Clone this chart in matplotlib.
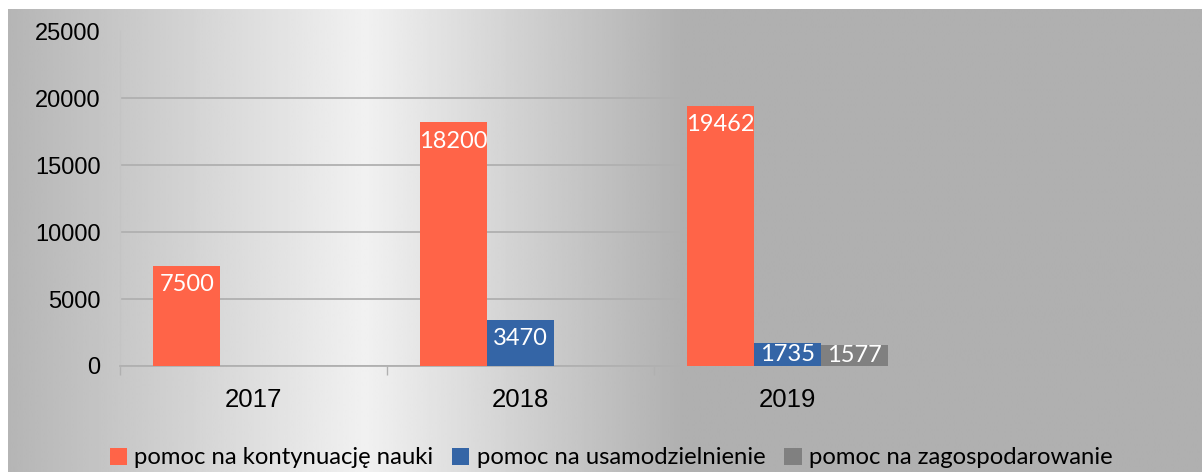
import numpy as np
import matplotlib
matplotlib.use("Agg")
import matplotlib.pyplot as plt
from matplotlib.patches import Patch

# ---- data ----
categories = ["2017", "2018", "2019"]
series_names = ["pomoc na kontynuację nauki", "pomoc na usamodzielnienie", "pomoc na zagospodarowanie"]
kontynuacja = [7500, 18200, 19462]
usamodzielnienie = [0, 3470, 1735]
zagospodarowanie = [0, 0, 1577]
yticks = [0, 5000, 10000, 15000, 20000, 25000]

colors = ["#FF6448", "#3465A6", "#808080"]
W, H = 1202, 472
fig = plt.figure(figsize=(W / 100, H / 100), dpi=100)
fig.patch.set_facecolor("white")

# ---- background gradient ----
bg = fig.add_axes([8 / W, 0, (W - 8) / W, (H - 9) / H], zorder=-10)
xs = np.linspace(8, W, 600)
vals = np.interp(xs, [8, 365, 682, W], [0.71, 0.945, 0.69, 0.69])
bg.imshow(vals[None, :], aspect="auto", cmap="gray", vmin=0, vmax=1,
          extent=[0, 1, 0, 1], interpolation="bilinear")
bg.set_axis_off()

# ---- main axes ----
x0, x1 = 120, 1188
y0, y1 = 366, 31.5
ax = fig.add_axes([x0 / W, 1 - y0 / H, (x1 - x0) / W, (y0 - y1) / H])
ax.set_facecolor("none")
ax.set_xlim(-0.5, 3.5)
ax.set_ylim(0, 25000)

grid_c = "#b0b0b0"
for s in ["top", "right"]:
    ax.spines[s].set_visible(False)
ax.spines["left"].set_color("#c4c4c4")
ax.spines["left"].set_linewidth(1.0)
ax.spines["bottom"].set_color(grid_c)
ax.spines["bottom"].set_linewidth(1.3)
ax.set_yticks(yticks)
ax.set_yticklabels([str(v) for v in yticks], fontfamily="Liberation Sans", fontsize=17)
ax.tick_params(axis="y", length=0, pad=14)
ax.yaxis.grid(True, color=grid_c, linewidth=1.3)
ax.set_axisbelow(True)

ax.set_xticks(range(len(categories)))
ax.set_xticklabels(categories, fontfamily="Liberation Sans", fontsize=18.5)
ax.tick_params(axis="x", which="major", length=0, pad=16)
ax.set_xticks([-0.5, 0.5, 1.5, 2.5, 3.5], minor=True)
ax.tick_params(axis="x", which="minor", length=6.5, color=grid_c, width=1.0)

bw = 0.25
series = [kontynuacja, usamodzielnienie, zagospodarowanie]
xidx = np.arange(len(categories))
px_per_unit = (y0 - y1) / 25000.0
for i, (vals_s, c) in enumerate(zip(series, colors)):
    xpos = xidx + (i - 1) * bw
    ax.bar(xpos, vals_s, width=bw, color=c, zorder=3)
    for xp, v in zip(xpos, vals_s):
        if v <= 0:
            continue
        hpx = v * px_per_unit
        if hpx / 2 < 19:
            ax.text(xp, v / 2, str(v), ha="center", va="center", color="white",
                    fontfamily="Lato", fontsize=17, zorder=4)
        else:
            ax.annotate(str(v), xy=(xp, v), xytext=(0, -19 * 0.72), textcoords="offset points",
                        ha="center", va="center", color="white",
                        fontfamily="Lato", fontsize=17, zorder=4)

handles = [Patch(facecolor=c, edgecolor="none") for c in colors]
fig.legend(handles, series_names, loc="center", bbox_to_anchor=(611 / W, 1 - 458 / H),
           ncol=3, frameon=False, prop={"family": "Lato", "size": 17.2},
           handlelength=0.72, handleheight=0.72, handletextpad=0.3, columnspacing=0.8,
           borderpad=0, borderaxespad=0)

fig.savefig("out.png", dpi=100)
